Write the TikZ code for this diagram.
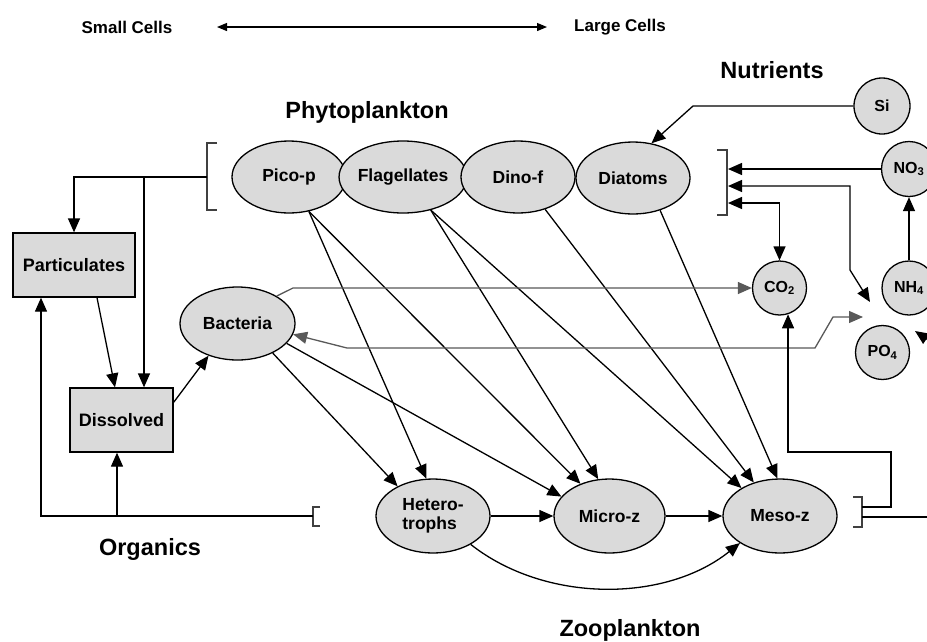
\documentclass[tikz,border=0pt]{standalone}
\usepackage{fontspec}
\setmainfont{Liberation Sans}
\usetikzlibrary{arrows.meta,shapes.geometric,calc}
\definecolor{cellgray}{HTML}{DADADA}
\tikzset{
  ell/.style={ellipse, draw, line width=1.3pt, fill=cellgray, inner sep=0pt,
    font=\fontsize{17.5}{19}\selectfont\bfseries, minimum width=114pt, minimum height=72pt},
  circ/.style={circle, draw, line width=1.3pt, fill=cellgray, inner sep=0pt,
    font=\fontsize{16}{18}\selectfont\bfseries, minimum size=55pt},
  boxn/.style={rectangle, draw, line width=1.3pt, fill=cellgray, inner sep=0pt,
    font=\fontsize{18}{19}\selectfont\bfseries},
  title/.style={font=\fontsize{23.5}{25}\selectfont\bfseries},
  small/.style={font=\fontsize{17}{19}\selectfont\bfseries},
  arr/.style={line width=1.3pt, -{Triangle[length=14pt,width=12pt]}},
  dblarr/.style={line width=1.3pt, {Triangle[length=14pt,width=12pt]}-{Triangle[length=14pt,width=12pt]}},
  brk/.style={line width=1.3pt, draw=black!75},
}
\begin{document}
\begin{tikzpicture}[x=1pt,y=-1pt]
\useasboundingbox (0,0) rectangle (927,641);
\clip (0,0) rectangle (927,641);
\fill[white] (0,0) rectangle (927,641);

% top scale
\node[small] (smallc) at (127,27) {Small Cells};
\node[small] (largec) at (620,27) {Large Cells};
\draw[line width=1.2pt, {Triangle[length=10pt,width=8pt]}-{Triangle[length=10pt,width=8pt]}] (217,27) -- (547,27);

% titles
\node[title] (tnut) at (772,70) {Nutrients};
\node[title] (tphy) at (367,112) {Phytoplankton};
\node[title] (torg) at (150,549) {Organics};
\node[title] (tzoo) at (630,630) {Zooplankton};

% phytoplankton
\node[ell] (pico) at (289,177) {Pico-p};
\node[ell] (flag) at (403,177) {Flagellates};
\node[ell] (dino) at (518,177) {Dino-f};
\node[ell] (diat) at (633,178) {Diatoms};

% organics
\node[boxn, minimum width=122pt, minimum height=64pt] (part) at (74,265) {Particulates};
\node[boxn, minimum width=103pt, minimum height=64pt] (diss) at (121.5,420) {Dissolved};
\node[ell, minimum width=115pt, minimum height=73pt] (bact) at (237.5,323.5) {Bacteria};

% zooplankton
\node[ell, minimum height=74pt, align=left] (het) at (433,516) {Hetero-\\trophs};
\node[ell, minimum width=111pt, minimum height=74pt] (micro) at (609.5,516) {Micro-z};
\node[ell, minimum height=74pt] (meso) at (780,516) {Meso-z};

% nutrients
\node[circ, minimum size=56pt] (si) at (882,106) {Si};
\node[circ] (no3) at (909,169) {NO\textsubscript{3}};
\node[circ, minimum size=54pt] (nh4) at (909,288) {NH\textsubscript{4}};
\node[circ, minimum size=54pt] (po4) at (882.5,352.5) {PO\textsubscript{4}};
\node[circ, minimum size=54pt] (co2) at (779.5,288) {CO\textsubscript{2}};

% brackets
\draw[brk] (217,143) -- (207,143) -- (207,210) -- (217,210);
\coordinate (lb) at (207,177);
\coordinate (br1) at (144,177);
\draw[brk] (717,150) -- (727,150) -- (727,215) -- (717,215);
\draw[brk] (320,507) -- (313,507) -- (313,526) -- (320,526);
\coordinate (lb2) at (313,516);
\draw[brk] (853,497) -- (862,497) -- (862,527) -- (853,527);
\coordinate (rb2) at (862,507);
\coordinate (rb3) at (862,517);
\coordinate (redge) at (935,517);

% phytoplankton to organics
\draw[arr] (lb) -| (part.north);
\draw[arr] (br1) -- (br1 |- diss.north);
\draw[arr] ([xshift=23pt]part.south) -- ([xshift=-6.5pt]diss.north);
\draw[arr] ([yshift=-15pt]diss.north east) -- (bact.228);

% zooplankton to organics
\draw[arr] (lb2) -| ([xshift=-33pt]part.south);
\draw[arr] ([xshift=-4.5pt]diss.south |- lb2) -- ([xshift=-4.5pt]diss.south);

% grazing
\draw[arr] (pico.-60) -- (het.100);
\draw[arr] (pico.-60) -- (micro.132);
\draw[arr] (flag.-50) -- (micro.107);
\draw[arr] (flag.-50) -- (meso.144);
\draw[arr] (dino.-50) -- (meso.128);
\draw[arr] (diat.-50) -- (meso.94);
\draw[arr] (bact.-40) -- (het.140);
\draw[arr] (bact.-22) -- (micro.158);
\draw[arr] (het.east) -- (micro.west);
\draw[arr] (micro.east) -- (meso.west);
\draw[arr] (het.-37) .. controls (545,603) and (665,603) .. (meso.214);

% bacteria exchange
\coordinate (bc1) at (293,288);
\draw[arr, draw=black!65] (bact.35) -- (bc1) -- (co2.west);
\coordinate (bc2) at (347,348);
\coordinate (bc3) at (815,348);
\coordinate (bc4) at (833,317);
\coordinate (nutgap) at (863,317);
\draw[dblarr, draw=black!65] (bact.-11) -- (bc2) -- (bc3) -- (bc4) -- (nutgap);

% nutrients to phytoplankton
\coordinate (si1) at (693,106);
\draw[arr] (si.west) -- (si1) -- (diat.62);
\coordinate (t1) at (728,169);
\coordinate (t2) at (728,186);
\coordinate (t3) at (728,203);
\draw[arr] (no3.west) -- (t1);
\coordinate (n1) at (850,186);
\coordinate (n2) at (850,270);
\coordinate (nutgap2) at (870,302);
\draw[dblarr] (t2) -- (n1) -- (n2) -- (nutgap2);
\draw[dblarr] (t3) -| (co2.north);
\draw[arr] (nh4.north) -- (no3.south);
\coordinate (offr) at (940,348);
\coordinate (gap3) at (915,331);
\draw[arr] (offr) -- (gap3);

% zooplankton to nutrients
\draw[line width=1.3pt] (rb3) -- (redge);
\coordinate (m1) at (891,507);
\coordinate (m2) at (891,452);
\draw[arr] (rb2) -- (m1) -- (m2) -| (co2.-72);
\end{tikzpicture}
\end{document}
